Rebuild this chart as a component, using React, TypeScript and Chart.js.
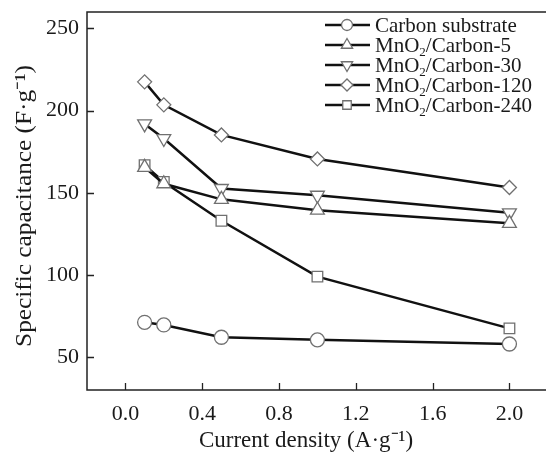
import React, { useEffect, useRef } from "react";
import { Chart, registerables } from "chart.js";

Chart.register(...registerables);

const X_VALUES = [0.1, 0.2, 0.5, 1.0, 2.0];
const CARBON = [71.2, 69.6, 62.1, 60.5, 58.0];
const MNO2_5 = [165.5, 155.5, 146.0, 139.4, 131.4];
const MNO2_30 = [191.9, 183.0, 152.6, 148.5, 137.8];
const MNO2_120 = [217.5, 203.5, 185.2, 170.6, 153.2];
const MNO2_240 = [166.8, 156.6, 133.0, 99.0, 67.5];

const X_TICKS = [0.0, 0.4, 0.8, 1.2, 1.6, 2.0];
const Y_TICKS = [50, 100, 150, 200, 250];

const X_TITLE = "Current density (A·g⁻¹)";
const Y_TITLE = "Specific capacitance (F·g⁻¹)";

const SERIES = [
  { pre: "Carbon substrate", sub: "", post: "", data: CARBON, style: "circle", r: 7, rot: 0, lr: 5.5 },
  { pre: "MnO", sub: "2", post: "/Carbon-5", data: MNO2_5, style: "triangle", r: 8, rot: 0, lr: 6.5 },
  { pre: "MnO", sub: "2", post: "/Carbon-30", data: MNO2_30, style: "triangle", r: 8, rot: 180, lr: 6.5 },
  { pre: "MnO", sub: "2", post: "/Carbon-120", data: MNO2_120, style: "rectRot", r: 7, rot: 0, lr: 6 },
  { pre: "MnO", sub: "2", post: "/Carbon-240", data: MNO2_240, style: "rect", r: 7.5, rot: 0, lr: 6 },
];

const FONT = "'Liberation Serif', 'Times New Roman', serif";
const MARKER_STROKE = "#707070";
const LINE_COLOR = "#111111";

function drawMarker(ctx: CanvasRenderingContext2D, style: string, x: number, y: number, r: number, rot: number) {
  ctx.beginPath();
  if (style === "circle") {
    ctx.arc(x, y, r, 0, Math.PI * 2);
  } else if (style === "triangle") {
    const a0 = (rot * Math.PI) / 180;
    for (let i = 0; i < 3; i++) {
      const a = a0 + (i * 2 * Math.PI) / 3;
      const px = x + Math.sin(a) * r;
      const py = y - Math.cos(a) * r;
      if (i === 0) ctx.moveTo(px, py);
      else ctx.lineTo(px, py);
    }
    ctx.closePath();
  } else if (style === "rectRot") {
    ctx.moveTo(x - r, y);
    ctx.lineTo(x, y - r);
    ctx.lineTo(x + r, y);
    ctx.lineTo(x, y + r);
    ctx.closePath();
  } else {
    const s = Math.SQRT1_2 * r;
    ctx.rect(x - s, y - s, 2 * s, 2 * s);
  }
  ctx.fillStyle = "#ffffff";
  ctx.fill();
  ctx.lineWidth = 1.3;
  ctx.strokeStyle = MARKER_STROKE;
  ctx.stroke();
}

const framePlugin = {
  id: "framePlugin",
  afterDatasetsDraw(chart: any) {
    const { ctx, chartArea, scales } = chart;
    const { left, top, bottom } = chartArea;
    const edge = chart.width;
    ctx.save();
    // frame (right side runs off the picture)
    ctx.strokeStyle = "#222222";
    ctx.lineWidth = 1.5;
    ctx.beginPath();
    ctx.moveTo(edge, top);
    ctx.lineTo(left, top);
    ctx.lineTo(left, bottom);
    ctx.lineTo(edge, bottom);
    ctx.stroke();
    // inward ticks
    ctx.lineWidth = 1.3;
    ctx.beginPath();
    for (const v of X_TICKS) {
      const px = Math.round(scales.x.getPixelForValue(v)) + 0.5;
      ctx.moveTo(px, bottom);
      ctx.lineTo(px, bottom - 7);
    }
    for (const v of Y_TICKS) {
      const py = Math.round(scales.y.getPixelForValue(v)) + 0.5;
      ctx.moveTo(left, py);
      ctx.lineTo(left + 7, py);
    }
    ctx.stroke();

    // axis titles
    ctx.fillStyle = "#1a1a1a";
    ctx.font = `23px ${FONT}`;
    ctx.textAlign = "center";
    ctx.textBaseline = "middle";
    ctx.fillText(X_TITLE, 306, 441);
    ctx.save();
    ctx.translate(25, 206);
    ctx.rotate(-Math.PI / 2);
    ctx.scale(1.1, 1);
    ctx.fillText(Y_TITLE, 0, 0);
    ctx.restore();

    // legend
    const lx0 = 325;
    const lx1 = 370;
    const lmx = 347;
    const tx = 375;
    const y0 = 25;
    const dy = 20;
    ctx.textAlign = "left";
    ctx.textBaseline = "middle";
    SERIES.forEach((s, i) => {
      const y = y0 + i * dy;
      ctx.strokeStyle = LINE_COLOR;
      ctx.lineWidth = 2.5;
      ctx.beginPath();
      ctx.moveTo(lx0, y);
      ctx.lineTo(lx1, y);
      ctx.stroke();
      drawMarker(ctx, s.style, lmx, y, s.lr, s.rot);
      ctx.fillStyle = "#1a1a1a";
      ctx.font = `21px ${FONT}`;
      let x = tx;
      ctx.fillText(s.pre, x, y + 1);
      x += ctx.measureText(s.pre).width;
      if (s.sub) {
        ctx.font = `13px ${FONT}`;
        ctx.fillText(s.sub, x, y + 8);
        x += ctx.measureText(s.sub).width;
        ctx.font = `21px ${FONT}`;
        ctx.fillText(s.post, x, y + 1);
      }
    });
    ctx.restore();
  },
};

export default function App() {
  const canvasRef = useRef<HTMLCanvasElement | null>(null);

  useEffect(() => {
    const canvas = canvasRef.current;
    if (!canvas) return;
    const datasets = SERIES.map((s) => ({
      label: s.pre + s.sub + s.post,
      data: X_VALUES.map((x, i) => ({ x, y: s.data[i] })),
      showLine: true,
      borderColor: LINE_COLOR,
      borderWidth: 2.5,
      pointStyle: s.style,
      pointRadius: s.r,
      pointRotation: s.rot,
      pointBackgroundColor: "#ffffff",
      pointBorderColor: MARKER_STROKE,
      pointBorderWidth: 1.3,
      tension: 0,
      clip: false,
    }));

    const chart = new Chart(canvas, {
      type: "scatter",
      data: { datasets },
      options: {
        animation: false,
        responsive: false,
        maintainAspectRatio: false,
        events: [],
        layout: { padding: { top: 12, right: 0, left: 0, bottom: 0 } },
        plugins: { legend: { display: false }, tooltip: { enabled: false } },
        scales: {
          x: {
            type: "linear",
            min: -0.2,
            max: 2.142,
            grid: { display: false, drawTicks: false },
            border: { display: false },
            afterBuildTicks: (scale: any) => {
              scale.ticks = X_TICKS.map((v) => ({ value: v }));
            },
            afterFit: (scale: any) => {
              scale.height = 66;
              scale.paddingLeft = 0;
              scale.paddingRight = 0;
            },
            ticks: {
              padding: 11,
              color: "#1a1a1a",
              font: { family: FONT, size: 22 },
              maxRotation: 0,
              autoSkip: false,
              callback: (v: any) => Number(v).toFixed(1),
            },
          },
          y: {
            type: "linear",
            min: 30,
            max: 260,
            grid: { display: false, drawTicks: false },
            border: { display: false },
            afterBuildTicks: (scale: any) => {
              scale.ticks = Y_TICKS.map((v) => ({ value: v }));
            },
            afterFit: (scale: any) => {
              scale.width = 87;
              scale.paddingTop = 0;
              scale.paddingBottom = 0;
            },
            ticks: {
              padding: 8,
              color: "#1a1a1a",
              font: { family: FONT, size: 22 },
              autoSkip: false,
              callback: (v: any) => String(v),
            },
          },
        },
      },
      plugins: [framePlugin],
    } as any);

    return () => {
      chart.destroy();
    };
  }, []);

  return (
    <div style={{ position: "absolute", left: 0, top: 0, width: 546, height: 456, background: "#ffffff" }}>
      <canvas ref={canvasRef} width={546} height={456} style={{ width: 546, height: 456, display: "block" }} />
    </div>
  );
}
